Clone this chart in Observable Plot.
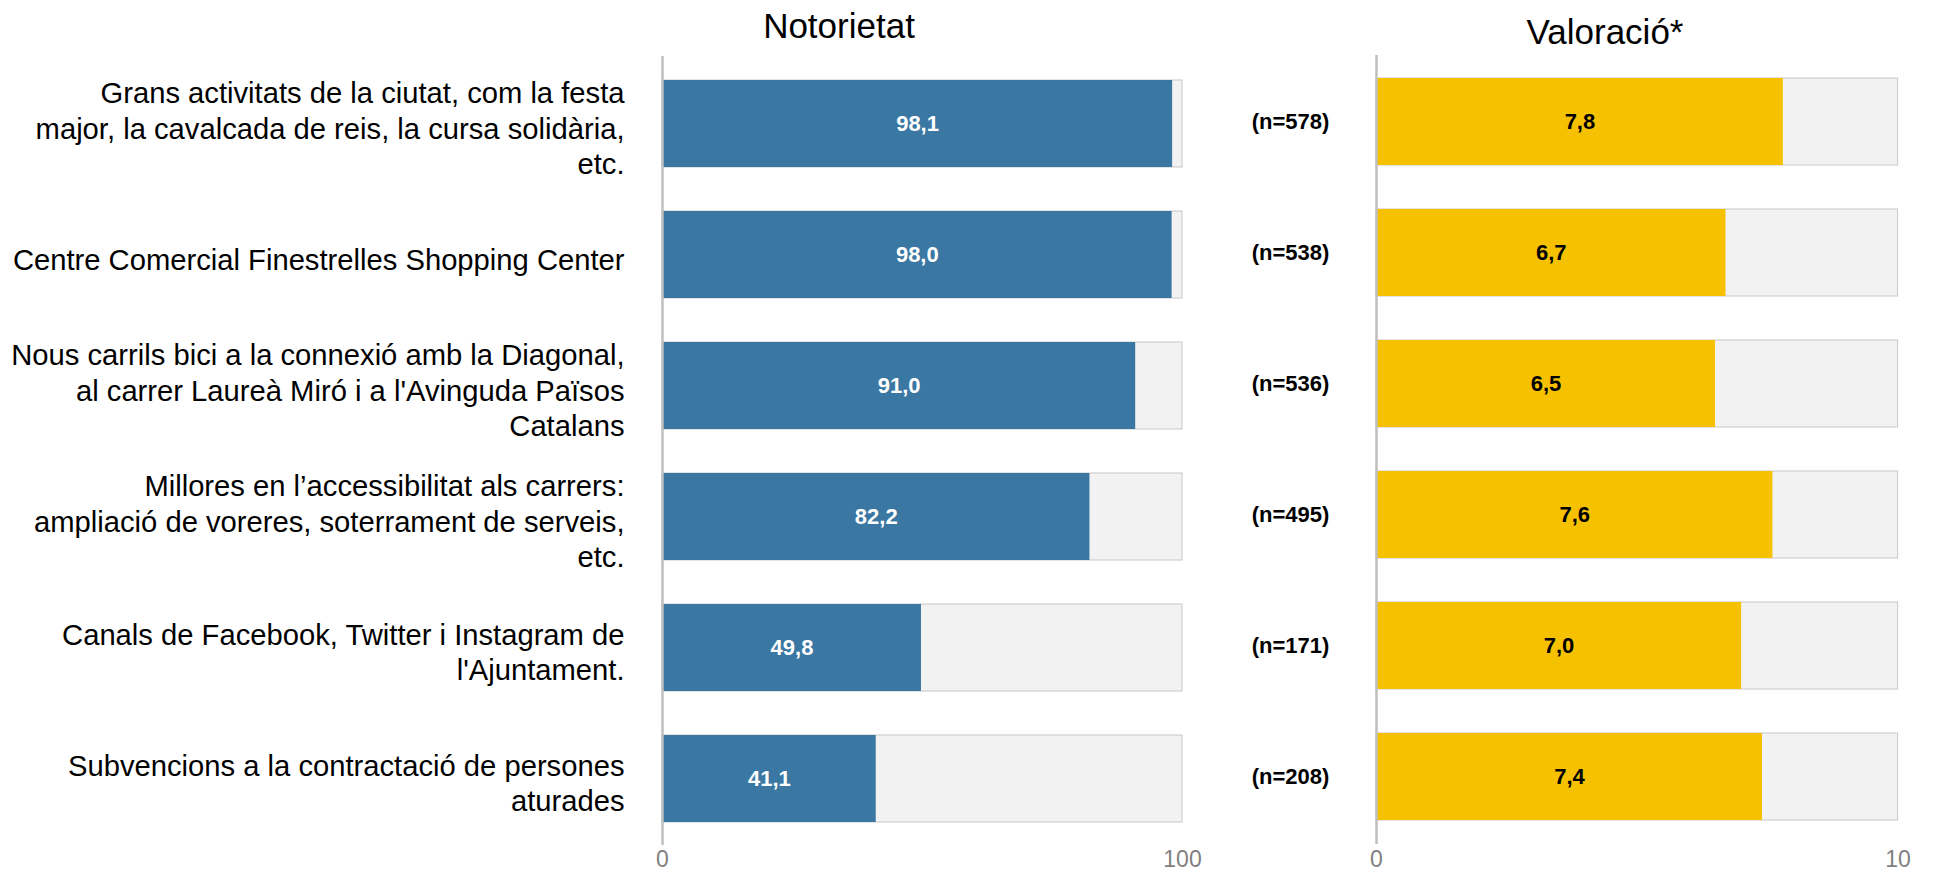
<!DOCTYPE html>
<html><head><meta charset="utf-8">
<script src="https://cdn.jsdelivr.net/npm/d3@7"></script>
<script src="https://cdn.jsdelivr.net/npm/@observablehq/plot@0.6"></script>
<style>
body{margin:0;background:#fff;font-family:"Liberation Sans",Arial,sans-serif;}
#wrap{position:relative;width:1934px;height:872px;overflow:hidden;}
#wrap svg{position:absolute;left:0;top:0;}
.title{position:absolute;font-size:35px;line-height:1;color:#000;transform:translateX(-50%);white-space:nowrap;}
</style></head><body>
<div id="wrap">
  <div class="title" style="left:839px;top:8px">Notorietat</div>
  <div class="title" style="left:1605px;top:14px">Valoració*</div>
</div>
<script>
const categories = [
  "Grans activitats de la ciutat, com la festa\nmajor, la cavalcada de reis, la cursa solidària,\netc.",
  "Centre Comercial Finestrelles Shopping Center",
  "Nous carrils bici a la connexió amb la Diagonal,\nal carrer Laureà Miró i a l'Avinguda Països\nCatalans",
  "Millores en l’accessibilitat als carrers:\nampliació de voreres, soterrament de serveis,\netc.",
  "Canals de Facebook, Twitter i Instagram de\nl'Ajuntament.",
  "Subvencions a la contractació de persones\naturades"
];
const notorietat = [98.1, 98.0, 91.0, 82.2, 49.8, 41.1];
const valoracio = [7.8, 6.7, 6.5, 7.6, 7.0, 7.4];
const sampleSizes = ["(n=578)", "(n=538)", "(n=536)", "(n=495)", "(n=171)", "(n=208)"];
const notorietatTicks = [0, 100];
const valoracioTicks = [0, 10];
const notorietatMax = 100;
const valoracioMax = 10;

const fmt = v => v.toFixed(1).replace(".", ",");
const font = "Liberation Sans, Arial, sans-serif";
const rowsA = categories.map((c, i) => ({cat: c, v: notorietat[i], max: notorietatMax}));
const rowsB = categories.map((c, i) => ({cat: c, v: valoracio[i], max: valoracioMax, n: sampleSizes[i]}));

const W = 1934, H = 872;

const plotA = Plot.plot({
  width: W, height: H,
  marginLeft: 662, marginRight: W - 1182, marginTop: 56, marginBottom: 27,
  x: {domain: [0, notorietatMax], range: [662, 1182]},
  y: {type: "band", domain: categories, range: [34.1, 868.5], padding: 0.3356, axis: null},
  style: {fontFamily: font, background: "transparent", overflow: "visible"},
  marks: [
    Plot.barX(rowsA, {x1: 0, x2: "max", y: "cat", fill: "#f2f2f2", stroke: "#c8c8c8", strokeWidth: 1}),
    Plot.barX(rowsA, {x: "v", y: "cat", fill: "#3a77a2"}),
    Plot.text(rowsA, {x: d => d.v / 2, y: "cat", text: d => fmt(d.v), fill: "white", fontWeight: "bold", fontSize: 22}),
    Plot.text(rowsA, {y: "cat", text: "cat", frameAnchor: "left", dx: -38, dy: 3, textAnchor: "end", fontSize: 29.2, lineHeight: 1.23, fill: "#000"}),
    Plot.ruleX([0], {stroke: "#bfbfbf", strokeWidth: 2.5}),
    Plot.axisX({ticks: notorietatTicks, tickSize: 0, tickPadding: 5, fontSize: 23, color: "#7f7f7f", label: null})
  ]
});

const plotB = Plot.plot({
  width: W, height: H,
  marginLeft: 1376, marginRight: W - 1897.6, marginTop: 55, marginBottom: 28,
  x: {domain: [0, valoracioMax], range: [1376, 1897.6]},
  y: {type: "band", domain: categories, range: [31.8, 866.2], padding: 0.3356, axis: null},
  style: {fontFamily: font, background: "transparent", overflow: "visible"},
  marks: [
    Plot.barX(rowsB, {x1: 0, x2: "max", y: "cat", fill: "#f2f2f2", stroke: "#c8c8c8", strokeWidth: 1}),
    Plot.barX(rowsB, {x: "v", y: "cat", fill: "#f6c100"}),
    Plot.text(rowsB, {x: d => d.v / 2, y: "cat", text: d => fmt(d.v), fill: "#000", fontWeight: "bold", fontSize: 22}),
    Plot.text(rowsB, {y: "cat", text: "n", frameAnchor: "left", dx: -86, textAnchor: "middle", fontWeight: "bold", fontSize: 22, fill: "#000"}),
    Plot.ruleX([0], {stroke: "#bfbfbf", strokeWidth: 2.5}),
    Plot.axisX({ticks: valoracioTicks, tickSize: 0, tickPadding: 6, fontSize: 23, color: "#7f7f7f", label: null})
  ]
});

const wrap = document.getElementById("wrap");
wrap.appendChild(plotA);
wrap.appendChild(plotB);
</script>
</body></html>
